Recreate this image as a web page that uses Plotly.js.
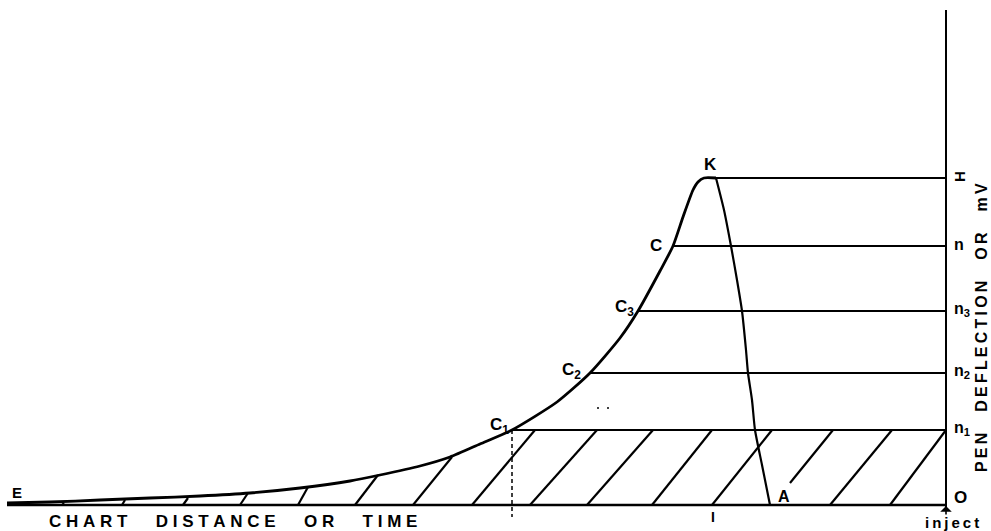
<!DOCTYPE html>
<html>
<head>
<meta charset="utf-8">
<script src="https://cdn.plot.ly/plotly-3.0.1.min.js"></script>
<style>html,body{margin:0;padding:0;background:#fff;}#chart{width:991px;height:531px;}</style>
</head>
<body>
<div id="chart"></div>
<script>
// x = chart distance measured back from the injection point, y = pen deflection
// Recorder trace (E ... C1, C2, C3, C, K)
var curveDist = [939, 896, 846, 796, 746, 696, 646, 596, 566, 526, 496, 466, 434, 389, 356, 326, 308, 286, 273, 263, 253, 248, 242, 230];
var curveDefl = [2, 3, 5, 7, 9, 12, 17, 24, 30, 39, 48, 61, 75, 103, 132, 167, 194, 234, 259, 288, 315, 323, 327, 327];

// Line from the peak K down to A
var kaDist = [230, 222, 215, 209, 204, 200, 198, 194, 191, 184, 176];
var kaDefl = [327, 295, 259, 225, 194, 155, 132, 105, 75, 40, 0];

// Deflection levels n1, n2, n3, n, H and where each meets the trace
var levelNames = ["n<sub>1</sub>", "n<sub>2</sub>", "n<sub>3</sub>", "n", "H"];
var levelDefl = [75, 132, 194, 259, 327];
var levelStart = [434, 356, 308, 273, 230];
var pointNames = ["C<sub>1</sub>", "C<sub>2</sub>", "C<sub>3</sub>", "C", "K"];

// Hatch strokes (start distance/deflection -> end distance/deflection)
var hatchX0 = [884, 824, 763, 706, 648, 591, 533, 474, 416, 359, 294, 234, 156, 116, 56];
var hatchY0 = [0, 0, 0, 0, 0, 0, 0, 0, 0, 0, 0, 0, 22, 0, 0];
var hatchX1 = [882, 821, 758, 698, 638, 568, 494, 411, 349, 293, 234, 174, 113, 54, 0];
var hatchY1 = [2, 5, 7, 12, 18, 30, 48, 75, 75, 75, 75, 75, 75, 75, 75];

var xTitle = "CHART DISTANCE OR TIME";
var yTitle = "PEN DEFLECTION OR mV";

var NB = "\u00A0", TH = "\u2009";
function spaced(s, gap, wordGap) {
  return s.split(" ").map(function (word) { return word.split("").join(gap); }).join(wordGap);
}

var hx = [], hy = [];
for (var i = 0; i < hatchX0.length; i++) {
  hx.push(hatchX0[i], hatchX1[i], null);
  hy.push(hatchY0[i], hatchY1[i], null);
}
var lx = [], ly = [];
for (var j = 0; j < levelDefl.length; j++) {
  lx.push(levelStart[j], 0, null);
  ly.push(levelDefl[j], levelDefl[j], null);
}

var black = "#000";
var traces = [
  {x: [939, 0], y: [0, 0], mode: "lines", line: {color: black, width: 2.3}, hoverinfo: "skip"},
  {x: [0, 0], y: [-2, 495], mode: "lines", line: {color: black, width: 2}, hoverinfo: "skip"},
  {x: lx, y: ly, mode: "lines", line: {color: black, width: 2}, hoverinfo: "skip"},
  {x: hx, y: hy, mode: "lines", line: {color: black, width: 2.2}, hoverinfo: "skip"},
  {x: [levelStart[0], levelStart[0]], y: [levelDefl[0], -12], mode: "lines", line: {color: black, width: 1.5, dash: "4px,3px"}, hoverinfo: "skip"},
  {x: curveDist, y: curveDefl, mode: "lines", line: {color: black, width: 2.8, shape: "spline", smoothing: 0.6}, hoverinfo: "skip"},
  {x: kaDist, y: kaDefl, mode: "lines", line: {color: black, width: 2.2, shape: "spline", smoothing: 0.6}, hoverinfo: "skip"},
  {x: [348, 338], y: [97, 97], mode: "markers", marker: {color: black, size: 2}, hoverinfo: "skip"}
];

var F = "Liberation Sans, Arial, sans-serif";
function ann(x, y, text, size, extra) {
  var a = {x: x, y: y, xref: "x", yref: "y", text: text, showarrow: false,
    font: {family: F, size: size, color: black, weight: "bold"}, xanchor: "center", yanchor: "middle"};
  for (var k in extra) a[k] = extra[k];
  return a;
}

var annotations = [
  ann(929, 13, "E", 15),
  ann(447, 79, pointNames[0], 17),
  ann(375, 134, pointNames[1], 17),
  ann(322, 197, pointNames[2], 17),
  ann(290, 260, pointNames[3], 17),
  ann(236, 341, pointNames[4], 17),
  ann(162, 9, "A", 16),
  ann(233, -12, "I", 14),
  ann(-6, levelDefl[0] + 2, levelNames[0], 16, {xanchor: "left"}),
  ann(-6, levelDefl[1] + 2, levelNames[1], 16, {xanchor: "left"}),
  ann(-6, levelDefl[2] + 2, levelNames[2], 16, {xanchor: "left"}),
  ann(-6, levelDefl[3] + 2, levelNames[3], 16, {xanchor: "left"}),
  ann(-13, levelDefl[4] + 1, "H", 15, {textangle: -90}),
  ann(-14, 8, "O", 17),
  ann(-6, -17, spaced("inject", TH, TH), 15),
  ann(899, -16, spaced(xTitle, NB, NB.repeat(6)), 17, {xanchor: "left"}),
  ann(-35, 177, spaced(yTitle, TH, NB.repeat(4) + TH), 16, {textangle: -90}),
  {x: 0, y: -1, xref: "x", yref: "y", ax: 0, ay: 10, showarrow: true, arrowhead: 1, arrowsize: 1.2, arrowwidth: 1.6, arrowcolor: black, text: ""}
];

var layout = {
  width: 991, height: 531,
  margin: {l: 0, r: 0, t: 0, b: 0},
  paper_bgcolor: "#fff", plot_bgcolor: "#fff",
  showlegend: false,
  xaxis: {range: [946, -45], visible: false, fixedrange: true},
  yaxis: {range: [-26, 505], visible: false, fixedrange: true},
  annotations: annotations
};

Plotly.newPlot("chart", traces, layout, {staticPlot: true, displayModeBar: false});
</script>
</body>
</html>
